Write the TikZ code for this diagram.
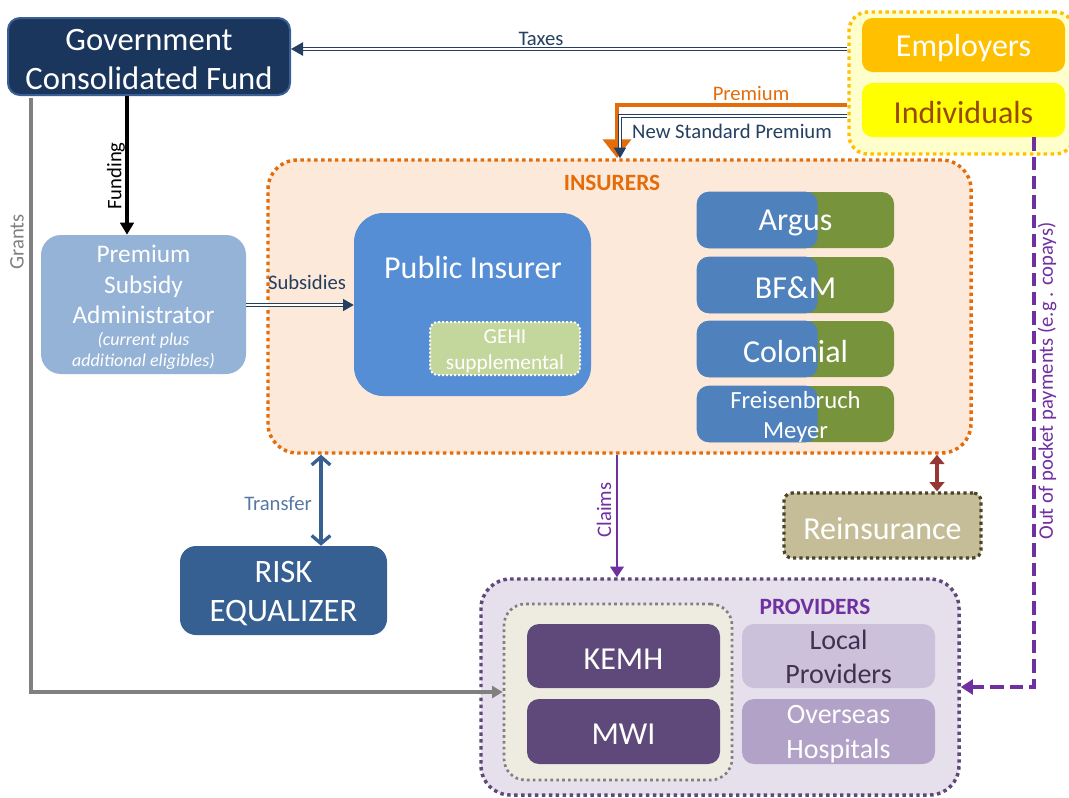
\documentclass[tikz,border=0pt]{standalone}
\usepackage{fontspec}
\setmainfont{Carlito}
\usetikzlibrary{fit,arrows.meta,calc}
\definecolor{govfill}{HTML}{1B365D}
\definecolor{govline}{HTML}{3A5F95}
\definecolor{navy}{HTML}{243F60}
\definecolor{empfill}{HTML}{FFC000}
\definecolor{indfill}{HTML}{FFFF00}
\definecolor{indtext}{HTML}{984807}
\definecolor{grpfill}{HTML}{FFFFCC}
\definecolor{orng}{HTML}{E46C0A}
\definecolor{insfill}{HTML}{FDE9D9}
\definecolor{pubfill}{HTML}{558ED5}
\definecolor{gehifill}{HTML}{C3D69B}
\definecolor{grn}{HTML}{77933C}
\definecolor{blu}{HTML}{4F81BD}
\definecolor{psafill}{HTML}{95B3D7}
\definecolor{riskfill}{HTML}{376092}
\definecolor{purp}{HTML}{7030A0}
\definecolor{reinfill}{HTML}{C4BD97}
\definecolor{reinline}{HTML}{4A452A}
\definecolor{dred}{HTML}{953735}
\definecolor{provfill}{HTML}{E5E0EC}
\definecolor{provline}{HTML}{5F497A}
\definecolor{innfill}{HTML}{EEECE1}
\definecolor{gry}{HTML}{808080}
\definecolor{kemh}{HTML}{5F497A}
\definecolor{localfill}{HTML}{CCC1DA}
\definecolor{localtext}{HTML}{3F3151}
\definecolor{ovfill}{HTML}{B3A2C7}
\tikzset{
  box/.style={inner sep=0pt},
  txt/.style={inner sep=0pt, align=center, text=white, yshift=-2.2pt},
  dotborder/.style={line width=2.6pt, dash pattern=on 2.6pt off 2.6pt},
  dblarrow/.style={draw=navy, double=white, line width=1.1pt, double distance=1.1pt},
  lbl/.style={font=\fontsize{15.5}{18}\selectfont, inner sep=1pt},
  big/.style={font=\fontsize{24}{29}\selectfont},
}
\begin{document}
\begin{tikzpicture}[x=0.75pt,y=-0.75pt]
\useasboundingbox (0,0) rectangle (1069,797);

% group backgrounds
\node[box, fit={(849,12) (1074,154)}, fill=grpfill, draw=empfill, dotborder, rounded corners=14pt] (empgrp) {};
\node[box, fit={(268,160) (971,453)}, fill=insfill, draw=orng, dotborder, rounded corners=22pt] (ins) {};
\node[box, fit={(481,579) (959,795)}, fill=provfill, draw=provline, dotborder, rounded corners=22pt] (prov) {};
\node[box, fit={(504,604) (732,780)}, fill=innfill, draw=gry, line width=2pt, dash pattern=on 2pt off 2.4pt, rounded corners=16pt] (inner) {};

% main boxes
\node[box, fit={(8,18) (290,95)}, fill=govfill, draw=govline, line width=1.5pt, rounded corners=9pt] (gov) {};
\node[txt, font=\fontsize{24.5}{29}\selectfont] (govt) at (gov) {Government\\Consolidated Fund};
\node[box, fit={(862,18) (1065,72)}, fill=empfill, rounded corners=8pt] (emp) {};
\node[txt, big] (empt) at (emp) {Employers};
\node[box, fit={(862,83) (1065,137)}, fill=indfill, rounded corners=8pt] (ind) {};
\node[txt, big, text=indtext] (indt) at (ind) {Individuals};

\node[box, fit={(41,235) (246,374)}, fill=psafill, rounded corners=15pt] (psa) {};
\node[txt, font=\fontsize{19}{23}\selectfont] (psat) at ($(psa.center)+(0,-23)$) {Premium\\Subsidy\\Administrator};
\node[txt, font=\fontsize{13.5}{15.75}\selectfont\itshape] (psai) at ($(psa.center)+(0,44)$) {(current plus\\additional eligibles)};

\node[box, fit={(354,213) (591,396)}, fill=pubfill, rounded corners=22pt] (pub) {};
\node[txt, big] (publbl) at (473,265) {Public Insurer};
\node[box, fit={(430,322) (580,375)}, fill=gehifill, draw=white, line width=1.5pt, dash pattern=on 1.5pt off 1.5pt, rounded corners=6pt] (gehi) {};
\node[txt, font=\fontsize{16}{19}\selectfont] (gehit) at (gehi) {GEHI\\supplemental};

% private insurers
\foreach \nm/\ya/\yb in {argus/192/248, bfm/257/313, col/321/377, frei/386/442}{
  \node[box, fit={(697,\ya) (894,\yb)}, fill=grn, rounded corners=9pt] (\nm) {};
  \fill[blu, rounded corners=9pt] (\nm.north west) rectangle ($(\nm.south west)+(121,0)$);
}
\node[txt, big] (arguslbl) at (argus) {Argus};
\node[txt, big] (bfmlbl) at (bfm) {BF\&M};
\node[txt, big] (collbl) at (col) {Colonial};
\node[txt, font=\fontsize{18.5}{23}\selectfont] (freilbl) at (frei) {Freisenbruch\\Meyer};

\node[box, fit={(180,546) (387,635)}, fill=riskfill, rounded corners=12pt] (risk) {};
\node[txt, font=\fontsize{24.5}{29.5}\selectfont] (riskt) at (risk) {RISK\\EQUALIZER};
\node[box, fit={(784,493) (981,558)}, fill=reinfill, draw=reinline, line width=2.4pt, dash pattern=on 2.4pt off 2.4pt, rounded corners=6pt] (rein) {};
\node[txt, big] (reint) at (rein) {Reinsurance};

\node[box, fit={(527,624) (720,688)}, fill=kemh, rounded corners=9pt] (kemh) {};
\node[txt, big] (kemht) at (kemh) {KEMH};
\node[box, fit={(527,699) (720,764)}, fill=kemh, rounded corners=9pt] (mwi) {};
\node[txt, big] (mwit) at (mwi) {MWI};
\node[box, fit={(742,624) (935,688)}, fill=localfill, rounded corners=9pt] (local) {};
\node[txt, text=localtext, font=\fontsize{21}{25}\selectfont] (localt) at ($(local.center)+(0,-2)$) {Local\\Providers};
\node[box, fit={(742,699) (935,764)}, fill=ovfill, rounded corners=9pt] (over) {};
\node[txt, font=\fontsize{21}{26.5}\selectfont] (overt) at (over) {Overseas\\Hospitals};

% group labels
\node[text=orng, font=\bfseries\fontsize{17.5}{20}\selectfont] (inslbl) at (612,183) {INSURERS};
\node[text=purp, font=\bfseries\fontsize{17.5}{20}\selectfont] (provlbl) at (815,607) {PROVIDERS};

% routing coordinates
\coordinate (taxy) at (0,49);
\coordinate (premy) at (0,105);
\coordinate (nspy) at (0,116);
\coordinate (nspx) at (620,0);
\coordinate (grantx) at (31,0);
\coordinate (fundx) at (127,0);
\coordinate (subsy) at (0,305);
\coordinate (transx) at (321,0);
\coordinate (claimx) at (617,0);
\coordinate (reinx) at (937,0);
\coordinate (oopx) at (1034,0);
\coordinate (prtip) at (617,158);

% Taxes
\draw[dblarrow, -{Triangle[length=9pt,width=10pt]}] (empgrp.west |- taxy) -- (gov.east |- taxy);
\node[lbl, text=navy] (taxlbl) at (541,39) {Taxes};

% Premium (orange)
\draw[orng, line width=3pt, -{Triangle[length=14pt,width=21pt]}] (empgrp.west |- premy) -| (prtip);
\node[lbl, text=orng] (premlbl) at (751,93) {Premium};
% New Standard Premium
\draw[dblarrow, -{Triangle[length=8pt,width=9pt]}] (empgrp.west |- nspy) -| (nspx |- ins.north);
\node[lbl, text=navy] (nsplbl) at (732,131) {New Standard Premium};

% Funding
\draw[black, line width=3pt, -{Triangle[length=9pt,width=10pt]}] (fundx |- gov.south) -- (fundx |- psa.north);
\node[lbl, text=black, rotate=90] (fundlbl) at (116,176) {Funding};

% Grants
\draw[gry, line width=3pt, -{Triangle[length=8pt,width=9pt]}] ($(grantx |- gov.south)+(0,2)$) |- (inner.west) ;
\node[lbl, text=gry, rotate=90] (grantlbl) at (17,242) {Grants};

% Subsidies
\draw[dblarrow, -{Triangle[length=8pt,width=9pt]}] (psa.east |- subsy) -- (pub.west |- subsy);
\node[lbl, text=navy] (subslbl) at (307,282) {Subsidies};

% Transfer
\draw[riskfill, line width=3pt, {Straight Barb[length=6pt,width=14pt,line width=2.5pt]}-{Straight Barb[length=6pt,width=14pt,line width=2.5pt]}] (transx |- ins.south) -- (transx |- risk.north);
\node[lbl, text=riskfill!85!white] (translbl) at (278,503) {Transfer};

% Claims
\draw[purp, line width=2.2pt, -{Triangle[length=8pt,width=10pt]}] (claimx |- ins.south) -- (claimx |- prov.north);
\node[lbl, text=purp, rotate=90] (claimlbl) at (604,510) {Claims};

% Reinsurance
\draw[dred, line width=2.5pt, {Triangle[length=7pt,width=11pt]}-{Triangle[length=7pt,width=11pt]}] (reinx |- ins.south) -- (reinx |- rein.north);

% Out of pocket
\draw[purp, line width=3pt, dash pattern=on 10pt off 4.5pt, -{Triangle[length=9pt,width=11pt]}] (oopx |- ind.south) |- (prov.east);
\node[lbl, text=purp, rotate=90] (ooplbl) at (1047,381) {Out of pocket payments (e.g . copays)};

\end{tikzpicture}
\end{document}
